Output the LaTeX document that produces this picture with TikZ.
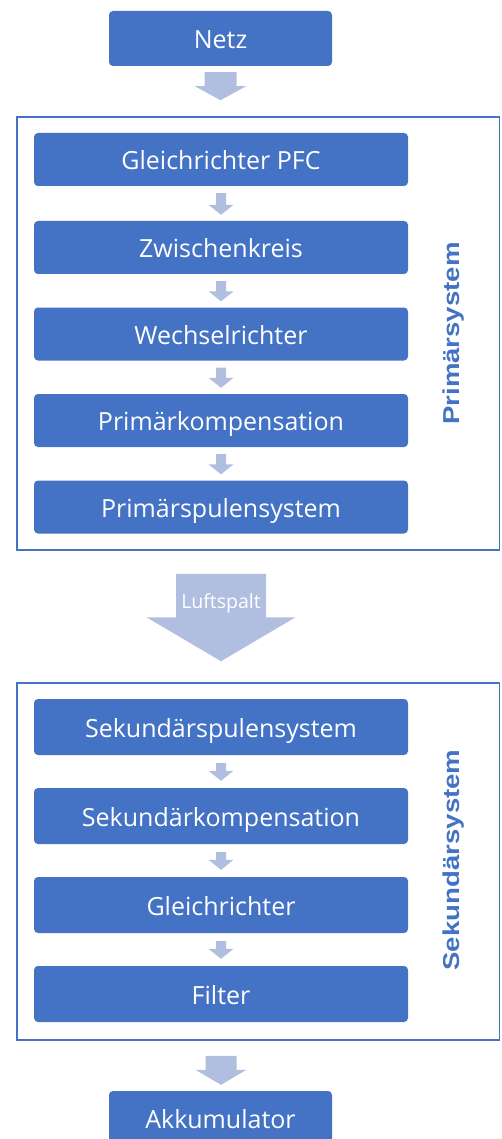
\documentclass[tikz,border=0pt]{standalone}
\usepackage{fontspec}
\setmainfont{Open Sans}
\newfontfamily\labelfont{Liberation Sans}
\usetikzlibrary{calc}

\definecolor{boxblue}{HTML}{4472C4}
\definecolor{arrowblue}{HTML}{B0BEE0}

\tikzset{
  stage/.style={fill=boxblue, rounded corners=4pt, text=white, minimum width=374pt, minimum height=53pt, text height=20pt, text depth=0pt, font=\fontsize{25}{29}\selectfont},
  endstage/.style={stage, minimum width=223pt, minimum height=55pt},
  frame/.style={draw=boxblue, line width=1.5pt},
  sidelabel/.style={text=boxblue, rotate=90, font=\labelfont\bfseries\fontsize{23}{26}\selectfont},
  gaptext/.style={text=white, font=\fontsize{19.5}{23}\selectfont}
}

% block arrow: start, end, half shaft, half head, head length
\newcommand{\flowarrow}[5]{%
  \fill[arrowblue] let \p1=#1, \p2=#2 in
    ({\x1-#3pt},\y1) -- ({\x1+#3pt},\y1) -- ({\x1+#3pt},{\y2+#5pt}) -- ({\x1+#4pt},{\y2+#5pt})
    -- (\x1,\y2) -- ({\x1-#4pt},{\y2+#5pt}) -- ({\x1-#3pt},{\y2+#5pt}) -- cycle;}

\begin{document}
\begin{tikzpicture}[x=1pt,y=-1pt]
\useasboundingbox (0,0) rectangle (501,1139);
\clip (0,0) rectangle (501,1139);

% frames
\node[frame, minimum width=482.5pt, minimum height=433pt] (prim) at (258.25,333.5) {};
\node[frame, minimum width=482.5pt, minimum height=357pt] (sek) at (258.25,861.5) {};

\node[sidelabel] (primlabel) at (454,333.5) {\scalebox{1.2}[1]{Primärsystem}};
\node[sidelabel] (seklabel) at (454,860) {\scalebox{1.2}[1]{Sekundärsystem}};

% top and bottom
\node[endstage] (netz) at (220.5,38.5) {Netz};
\node[endstage] (akku) at (220.5,1118.5) {Akkumulator};

% primary side
\node[stage] (gpfc) at (221,159.5) {Gleichrichter PFC};
\node[stage] (zwk) at (221,247.5) {Zwischenkreis};
\node[stage] (wr) at (221,334) {Wechselrichter};
\node[stage] (pkomp) at (221,420.5) {Primärkompensation};
\node[stage] (pspule) at (221,507) {Primärspulensystem};

% secondary side
\node[stage, minimum height=56pt] (sspule) at (221,727) {Sekundärspulensystem};
\node[stage, minimum height=56pt] (skomp) at (221,816) {Sekundärkompensation};
\node[stage, minimum height=56pt] (gr) at (221,905) {Gleichrichter};
\node[stage, minimum height=56pt] (filter) at (221,994) {Filter};

% arrows
\flowarrow{($(netz.south)+(0,6)$)}{($(prim.north -| netz.south)+(0,-16)$)}{16}{25.5}{14}
\flowarrow{($(gpfc.south)+(0,7)$)}{($(zwk.north)+(0,-6)$)}{5}{12.5}{10}
\flowarrow{($(zwk.south)+(0,7)$)}{($(wr.north)+(0,-6)$)}{5}{12.5}{10}
\flowarrow{($(wr.south)+(0,7)$)}{($(pkomp.north)+(0,-6)$)}{5}{12.5}{10}
\flowarrow{($(pkomp.south)+(0,7)$)}{($(pspule.north)+(0,-6)$)}{5}{12.5}{10}
\flowarrow{($(prim.south -| pspule.south)+(0,23)$)}{($(sek.north -| sspule.north)+(0,-21)$)}{45}{74.5}{44}
\node[gaptext] (luft) at ($(prim.south -| pspule.south)+(0,53)$) {Luftspalt};
\flowarrow{($(sspule.south)+(0,8)$)}{($(skomp.north)+(0,-7)$)}{5}{12.5}{10}
\flowarrow{($(skomp.south)+(0,8)$)}{($(gr.north)+(0,-7)$)}{5}{12.5}{10}
\flowarrow{($(gr.south)+(0,8)$)}{($(filter.north)+(0,-7)$)}{5}{12.5}{10}
\flowarrow{($(sek.south -| filter.south)+(0,15)$)}{($(akku.north)+(0,-6)$)}{15.5}{25.5}{15}

\end{tikzpicture}
\end{document}
